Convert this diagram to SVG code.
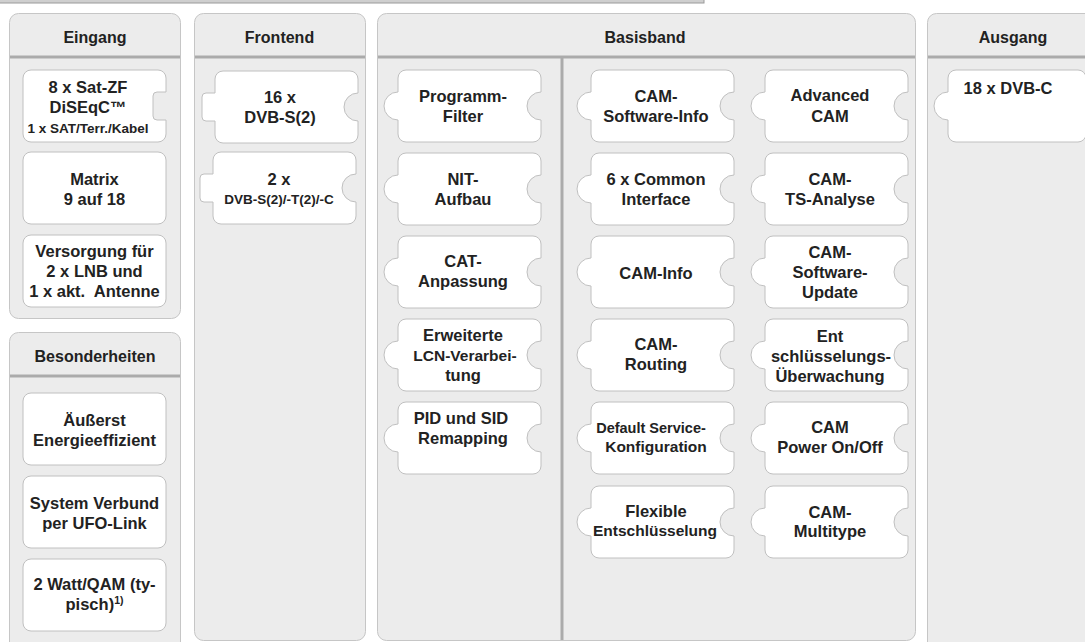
<svg xmlns="http://www.w3.org/2000/svg" xmlns:xlink="http://www.w3.org/1999/xlink" width="1085" height="642" viewBox="0 0 1085 642">
<style>
.bg{fill:#ffffff}
.panel{fill:#ececec;stroke:#c6c6c6;stroke-width:1}
.sep{stroke:#ababab;stroke-width:3;fill:none}
.node{fill:#ffffff;stroke:#c0c0c0;stroke-width:1}
text{font-family:"Liberation Sans",Arial,Helvetica,sans-serif;font-weight:bold;fill:#222222;text-anchor:middle}
.h{font-size:16px}
.t{font-size:16.5px}
.s{font-size:13.5px}
</style>
<defs>
<path id="plain" class="node" d="M8,0 H135 A8,8 0 0 1 143,8 V64 A8,8 0 0 1 135,72 H8 A8,8 0 0 1 0,64 V8 A8,8 0 0 1 8,0 Z"/>
<path id="rsock" class="node" d="M8,0 H135 A8,8 0 0 1 143,8 V22 H134 A4,4 0 0 0 130,26 V46 A4,4 0 0 0 134,50 H143 V64 A8,8 0 0 1 135,72 H8 A8,8 0 0 1 0,64 V8 A8,8 0 0 1 8,0 Z"/>
<path id="tabsock" class="node" d="M8,0 H135 A8,8 0 0 1 143,8 V22 A14,14 0 0 0 143,50 V64 A8,8 0 0 1 135,72 H8 A8,8 0 0 1 0,64 V50 H-9 A4,4 0 0 1 -13,46 V26 A4,4 0 0 1 -9,22 H0 V8 A8,8 0 0 1 8,0 Z"/>
<path id="bumpsock" class="node" d="M8,0 H135 A8,8 0 0 1 143,8 V22 A14,14 0 0 0 143,50 V64 A8,8 0 0 1 135,72 H8 A8,8 0 0 1 0,64 V50 A14,14 0 0 1 0,22 V8 A8,8 0 0 1 8,0 Z"/>
<path id="bumponly" class="node" d="M8,0 H130 A8,8 0 0 1 138,8 V64 A8,8 0 0 1 130,72 H8 A8,8 0 0 1 0,64 V50 A14,14 0 0 1 0,22 V8 A8,8 0 0 1 8,0 Z"/>
</defs>
<rect class="bg" x="0" y="0" width="1085" height="642"/>
<rect x="-2" y="-2" width="706" height="5" fill="#cfcfcf" stroke="#9a9a9a" stroke-width="1"/>

<g id="panel-eingang">
<rect class="panel" x="9.5" y="13.5" width="171" height="305" rx="9"/>
<line class="sep" x1="10" y1="57" x2="180" y2="57"/>
<text class="h" x="95" y="43">Eingang</text>
</g>
<g id="panel-besonderheiten">
<rect class="panel" x="9.5" y="332.5" width="171" height="330" rx="9"/>
<line class="sep" x1="10" y1="376" x2="180" y2="376"/>
<text class="h" x="95" y="362">Besonderheiten</text>
</g>
<g id="panel-frontend">
<rect class="panel" x="194.5" y="13.5" width="171" height="627" rx="9"/>
<line class="sep" x1="195" y1="57" x2="365" y2="57"/>
<text class="h" x="279.5" y="43">Frontend</text>
</g>
<g id="panel-basisband">
<rect class="panel" x="377.5" y="13.5" width="538" height="627" rx="9"/>
<line class="sep" x1="378" y1="57" x2="915" y2="57"/>
<line class="sep" x1="562" y1="57" x2="562" y2="640"/>
<text class="h" x="645" y="43">Basisband</text>
</g>
<g id="panel-ausgang">
<rect class="panel" x="927.5" y="13.5" width="172" height="650" rx="9"/>
<line class="sep" x1="928" y1="57" x2="1090" y2="57"/>
<text class="h" x="1013" y="43">Ausgang</text>
</g>

<g id="connectors"></g>

<g id="n-satzf"><use xlink:href="#rsock" x="23" y="70"/>
<text class="t" x="88" y="93">8 x Sat-ZF</text><text class="t" x="88" y="113">DiSEqC™</text><text class="s" x="88" y="133">1 x SAT/Terr./Kabel</text></g>
<g id="n-matrix"><use xlink:href="#plain" x="23" y="152"/>
<text class="t" x="94.5" y="185">Matrix</text><text class="t" x="94.5" y="205">9 auf 18</text></g>
<g id="n-versorgung"><use xlink:href="#plain" x="23" y="235"/>
<text class="t" x="94.5" y="257">Versorgung für</text><text class="t" x="94.5" y="277">2 x LNB und</text><text class="t" x="94.5" y="297">1 x akt.&#160; Antenne</text></g>

<g id="n-energie"><use xlink:href="#plain" x="23" y="393"/>
<text class="t" x="94.5" y="426">Äußerst</text><text class="t" x="94.5" y="446">Energieeffizient</text></g>
<g id="n-verbund"><use xlink:href="#plain" x="23" y="476"/>
<text class="t" x="94.5" y="509">System Verbund</text><text class="t" x="94.5" y="529">per UFO-Link</text></g>
<g id="n-watt"><use xlink:href="#plain" x="23" y="559"/>
<text class="t" x="94.5" y="590">2 Watt/QAM (ty-</text><text class="t" x="94.5" y="610">pisch)<tspan font-size="10.5px" dy="-6">1)</tspan></text></g>

<g id="n-dvbs"><use xlink:href="#tabsock" x="215" y="71"/>
<text class="t" x="280" y="103">16 x</text><text class="t" x="280" y="123">DVB-S(2)</text></g>
<g id="n-dvbstc"><use xlink:href="#tabsock" x="213" y="152"/>
<text class="t" x="279" y="185">2 x</text><text class="s" x="279" y="204">DVB-S(2)/-T(2)/-C</text></g>

<g id="n-progfilter"><use xlink:href="#bumpsock" x="398" y="70"/>
<text class="t" x="463" y="102">Programm-</text><text class="t" x="463" y="122">Filter</text></g>
<g id="n-nit"><use xlink:href="#bumpsock" x="398" y="153"/>
<text class="t" x="463" y="185">NIT-</text><text class="t" x="463" y="205">Aufbau</text></g>
<g id="n-cat"><use xlink:href="#bumpsock" x="398" y="236"/>
<text class="t" x="463" y="267">CAT-</text><text class="t" x="463" y="287">Anpassung</text></g>
<g id="n-lcn"><use xlink:href="#bumpsock" x="398" y="319"/>
<text class="t" x="463" y="341">Erweiterte</text><text class="t" x="465" y="361" style="font-size:15.5px">LCN-Verarbei-</text><text class="t" x="463" y="381">tung</text></g>
<g id="n-pid"><use xlink:href="#bumpsock" x="398" y="402"/>
<text class="t" x="461" y="424">PID und SID</text><text class="t" x="463" y="444">Remapping</text></g>

<g id="n-camswinfo"><use xlink:href="#bumpsock" x="591" y="70"/>
<text class="t" x="656" y="102">CAM-</text><text class="t" x="656" y="122">Software-Info</text></g>
<g id="n-ci"><use xlink:href="#bumpsock" x="591" y="153"/>
<text class="t" x="656" y="185">6 x Common</text><text class="t" x="656" y="205">Interface</text></g>
<g id="n-caminfo"><use xlink:href="#bumpsock" x="591" y="236"/>
<text class="t" x="656" y="279">CAM-Info</text></g>
<g id="n-camrouting"><use xlink:href="#bumpsock" x="591" y="319"/>
<text class="t" x="656" y="350">CAM-</text><text class="t" x="656" y="370">Routing</text></g>
<g id="n-default"><use xlink:href="#bumpsock" x="591" y="402"/>
<text class="t" x="651" y="433" style="font-size:14.5px">Default Service-</text><text class="t" x="656" y="452" style="font-size:15.5px">Konfiguration</text></g>
<g id="n-flexible"><use xlink:href="#bumpsock" x="591" y="486"/>
<text class="t" x="656" y="517">Flexible</text><text class="t" x="655" y="536" style="font-size:15.5px">Entschlüsselung</text></g>

<g id="n-advcam"><use xlink:href="#bumpsock" x="765" y="70"/>
<text class="t" x="830" y="101">Advanced</text><text class="t" x="830" y="122">CAM</text></g>
<g id="n-tsanalyse"><use xlink:href="#bumpsock" x="765" y="153"/>
<text class="t" x="830" y="185">CAM-</text><text class="t" x="830" y="205">TS-Analyse</text></g>
<g id="n-swupdate"><use xlink:href="#bumpsock" x="765" y="236"/>
<text class="t" x="830" y="258">CAM-</text><text class="t" x="830" y="278">Software-</text><text class="t" x="830" y="298">Update</text></g>
<g id="n-ueberwachung"><use xlink:href="#bumpsock" x="765" y="319"/>
<text class="t" x="830" y="342">Ent</text><text class="t" x="831" y="362">schlüsselungs-</text><text class="t" x="830" y="382">Überwachung</text></g>
<g id="n-power"><use xlink:href="#bumpsock" x="765" y="402"/>
<text class="t" x="830" y="433">CAM</text><text class="t" x="830" y="453">Power On/Off</text></g>
<g id="n-multitype"><use xlink:href="#bumpsock" x="765" y="486"/>
<text class="t" x="830" y="518">CAM-</text><text class="t" x="830" y="537">Multitype</text></g>

<g id="n-dvbc"><use xlink:href="#bumponly" x="948" y="70"/>
<text class="t" x="1008" y="94">18 x DVB-C</text></g>
</svg>
